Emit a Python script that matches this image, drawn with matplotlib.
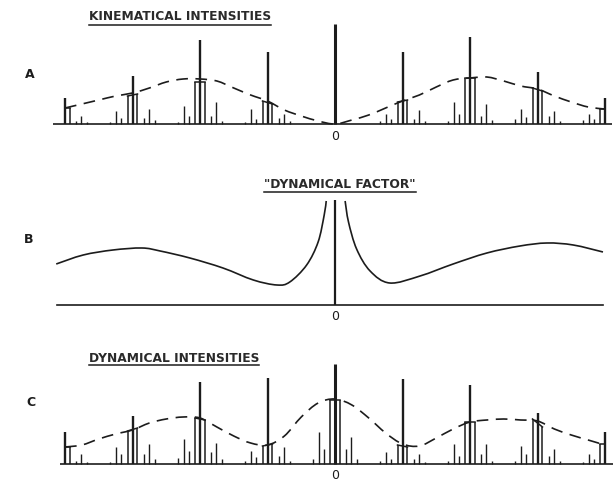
import numpy as np
import matplotlib
matplotlib.use("Agg")
import matplotlib.pyplot as plt
from matplotlib.path import Path
from matplotlib.patches import PathPatch

# ---------------- data (heights in arbitrary units, positions in reciprocal-lattice units) -------------
orders = [-4, -3, -2, -1, 0, 1, 2, 3, 4]
sat_offsets = [-0.326, -0.244, -0.170, 0.170, 0.244, 0.326]
flank_offset = 0.074

# Panel A: kinematical intensities
A_main = [26, 48, 84, 72, 100, 72, 87, 52, 26]
A_flank_l = [0, 28, 42, 23, 0, 22, 46, 36, 15]
A_flank_r = [16, 30, 42, 20, 0, 24, 46, 33, 0]
A_sat = [[0, 0, 0, 3, 8, 2],
         [2, 13, 6, 6, 15, 4],
         [2, 18, 8, 8, 22, 3],
         [2, 15, 5, 6, 10, 3],
         [0, 0, 0, 0, 0, 0],
         [3, 10, 5, 5, 14, 3],
         [3, 22, 10, 8, 20, 4],
         [5, 15, 7, 8, 13, 3],
         [4, 10, 5, 0, 0, 0]]
env_x = [-4, -3.75, -3.5, -3.25, -3, -2.75, -2.5, -2.25, -2, -1.75, -1.5, -1.25, -1,
         -0.75, -0.5, -0.25, 0, 0.25, 0.5, 0.75, 1, 1.25, 1.5, 1.75, 2, 2.25, 2.5,
         2.75, 3, 3.25, 3.5, 3.75, 4]
A_env = [16, 20, 24, 28, 31, 36, 42, 45, 45, 43, 36, 29, 23, 14, 8, 3, 0, 4, 9, 16,
         23, 29, 37, 44, 46, 47, 43, 38, 35, 28, 22, 17, 15]

# Panel B: "dynamical factor"
B_left_x = [-4.13, -3.73, -3.29, -2.86, -2.59, -2.15, -1.66, -1.21, -0.86, -0.67, -0.42, -0.25, -0.16, -0.13]
B_left_h = [41, 50, 55, 57, 54, 47, 37, 25, 20, 23, 40, 63, 90, 104]
B_right_x = [0.15, 0.20, 0.32, 0.52, 0.81, 1.26, 1.75, 2.25, 2.74, 3.14, 3.53, 3.97]
B_right_h = [104, 83, 56, 34, 22, 29, 41, 52, 59, 62, 60, 53]
B_spike = 105

# Panel C: dynamical intensities
C_main = [32, 48, 82, 86, 100, 85, 79, 51, 32]
C_flank_l = [0, 33, 46, 18, 64, 19, 42, 45, 20]
C_flank_r = [17, 36, 44, 20, 64, 17, 42, 37, 0]
C_sat = [[0, 0, 0, 3, 10, 2],
         [2, 17, 10, 10, 20, 5],
         [6, 25, 13, 12, 21, 5],
         [3, 13, 7, 8, 17, 3],
         [5, 32, 15, 15, 27, 5],
         [3, 12, 5, 5, 10, 2],
         [3, 20, 8, 10, 20, 3],
         [3, 18, 10, 8, 15, 3],
         [2, 10, 5, 0, 0, 0]]
C_env = [17, 19, 25, 30, 34, 41, 45, 47, 46, 37, 28, 21, 19, 28, 47, 61, 65, 59, 46,
         31, 20, 18, 26, 35, 42, 44, 45, 44, 43, 35, 29, 24, 19]

titles = ["KINEMATICAL INTENSITIES", '"DYNAMICAL FACTOR"', "DYNAMICAL INTENSITIES"]
panel_letters = ["A", "B", "C"]
zero_label = "0"

# ---------------- layout ----------------
W, H = 615, 481
CX, UNIT = 335.0, 67.5
INK = "#1c1c1c"
fig = plt.figure(figsize=(W / 100, H / 100), dpi=100)
fig.patch.set_facecolor("white")

def fx(px):
    return px / W

def fy(py):
    return 1 - py / H

def make_axes(base_py, top=112, bot=18):
    ax = fig.add_axes([0, fy(base_py + bot), 1, (top + bot) / H])
    ax.set_xlim((0 - CX) / UNIT, (W - CX) / UNIT)
    ax.set_ylim(-bot, top)
    ax.axis("off")
    return ax

def smooth_path(xs, ys):
    pts = np.column_stack([xs, ys]).astype(float)
    verts = [pts[0]]
    codes = [Path.MOVETO]
    n = len(pts)
    for i in range(n - 1):
        p0 = pts[i - 1] if i > 0 else pts[i]
        p1, p2 = pts[i], pts[i + 1]
        p3 = pts[i + 2] if i + 2 < n else pts[i + 1]
        verts += [p1 + (p2 - p0) / 6, p2 - (p3 - p1) / 6, p2]
        codes += [Path.CURVE4] * 3
    return Path(verts, codes)

def draw_spectrum(ax, main, fl, fr, sat, env, xmin, xmax):
    ax.plot([xmin, xmax], [0, 0], color=INK, lw=1.2, solid_capstyle="butt")
    # envelope (dashed)
    ax.add_patch(PathPatch(smooth_path(env_x, env), fill=False, edgecolor=INK,
                           lw=1.2, linestyle=(0, (7, 4.5))))
    for k, n in enumerate(orders):
        lw_main = 2.2 if n == 0 else 1.7
        ax.vlines(n, 0, main[k], color=INK, lw=lw_main)
        xl, xr = n - flank_offset, n + flank_offset
        hl, hr = fl[k], fr[k]
        if hl > 0:
            ax.vlines(xl, 0, hl, color=INK, lw=1.1)
        if hr > 0:
            ax.vlines(xr, 0, hr, color=INK, lw=1.1)
        if hl > 0 or hr > 0:
            x0 = xl if hl > 0 else n
            x1 = xr if hr > 0 else n
            h0 = hl if hl > 0 else hr
            h1 = hr if hr > 0 else hl
            ax.plot([x0, x1], [h0, h1], color=INK, lw=1.1)
        for off, h in zip(sat_offsets, sat[k]):
            if h > 0:
                ax.vlines(n + off, 0, h, color=INK, lw=1.0)
    ax.text(0, -11, zero_label, ha="center", va="center", fontsize=9, color=INK)

# Panel A
axA = make_axes(125)
draw_spectrum(axA, A_main, A_flank_l, A_flank_r, A_sat, A_env, (53 - CX) / UNIT, (612 - CX) / UNIT)

# Panel B
axB = make_axes(306)
axB.plot([(57 - CX) / UNIT, (603 - CX) / UNIT], [0, 0], color=INK, lw=1.2)
axB.vlines(0, 0, B_spike, color=INK, lw=1.6)
axB.add_patch(PathPatch(smooth_path(B_left_x, B_left_h), fill=False, edgecolor=INK, lw=1.2))
axB.add_patch(PathPatch(smooth_path(B_right_x, B_right_h), fill=False, edgecolor=INK, lw=1.2))
axB.text(0, -11, zero_label, ha="center", va="center", fontsize=9, color=INK)

# Panel C
axC = make_axes(465)
draw_spectrum(axC, C_main, C_flank_l, C_flank_r, C_sat, C_env, (60 - CX) / UNIT, (613 - CX) / UNIT)

# ---------------- texts ----------------
title_pos = [(180, 17), (340, 184), (174, 358)]
underline_py = [26, 193, 366]
renderer = fig.canvas.get_renderer()
for t, (px, py), uy in zip(titles, title_pos, underline_py):
    txt = fig.text(fx(px), fy(py), t, ha="center", va="center", fontsize=8.8,
                   fontweight="bold", color="#2a2a2a", fontfamily="DejaVu Sans")
    bb = txt.get_window_extent(renderer=renderer)
    fig.add_artist(plt.Line2D([bb.x0 / W, bb.x1 / W], [fy(uy), fy(uy)],
                              transform=fig.transFigure, color=INK, lw=1.1))
letter_pos = [(30, 75), (29, 240), (31, 403)]
for t, (px, py) in zip(panel_letters, letter_pos):
    fig.text(fx(px), fy(py), t, ha="center", va="center", fontsize=9,
             fontweight="bold", color=INK)

fig.savefig("out.png", dpi=100, facecolor="white")
